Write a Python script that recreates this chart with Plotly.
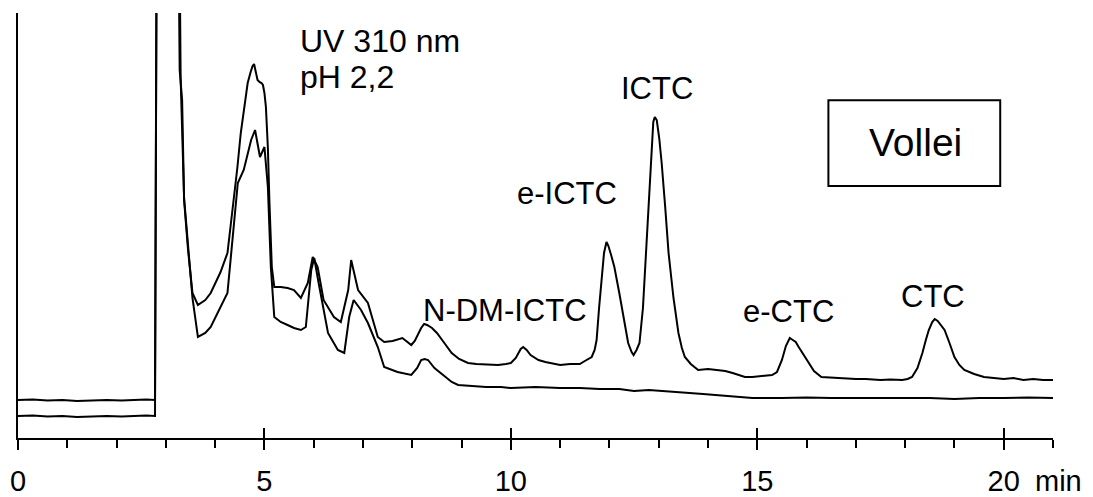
import plotly.graph_objects as go

# retention time (min) and detector signal (arbitrary units) -- upper trace
time_a = [0.0, 0.3, 0.6, 0.9, 1.2, 1.5, 1.8, 2.1, 2.4, 2.6, 2.78, 2.82, 3.24, 3.28, 3.33, 3.37, 3.45, 3.54,
          3.65, 3.8, 3.91, 4.11, 4.25, 4.38, 4.45, 4.52, 4.59, 4.66, 4.72, 4.76, 4.79, 4.82, 4.86, 4.90, 4.94,
          4.97, 5.00, 5.03, 5.07, 5.10, 5.15, 5.20,
          5.33, 5.47, 5.60, 5.74, 5.88, 5.98, 6.08, 6.20, 6.41, 6.55, 6.70, 6.76, 6.90, 7.10, 7.30, 7.43,
          7.60, 7.80, 7.98, 8.05, 8.10, 8.18, 8.24, 8.30, 8.40, 8.50, 8.65, 8.80, 8.95, 9.13,
          9.30, 9.50, 9.74, 9.90, 10.0, 10.1, 10.2, 10.25, 10.32, 10.4, 10.56, 10.7, 10.8, 11.0, 11.2, 11.4, 11.5,
          11.64, 11.70, 11.74, 11.79, 11.84, 11.89, 11.94, 11.98, 12.04, 12.1, 12.2, 12.29, 12.38, 12.45, 12.49,
          12.55, 12.61, 12.68, 12.75, 12.80, 12.85, 12.89, 12.92, 12.96, 13.01, 13.06, 13.13, 13.2, 13.3, 13.4,
          13.47, 13.53, 13.65, 13.8, 14.0, 14.2, 14.35, 14.5, 14.65, 14.75, 14.9, 15.1, 15.3, 15.4, 15.5, 15.58,
          15.66, 15.72, 15.78, 15.84, 15.94, 16.04, 16.15, 16.3, 16.58, 16.8, 17.0, 17.2, 17.5, 17.7,
          17.94, 18.05, 18.14, 18.25, 18.35, 18.42, 18.48, 18.55, 18.6, 18.66, 18.72, 18.8, 18.9, 19.0, 19.1,
          19.2, 19.4, 19.6, 19.8, 20.0, 20.2, 20.4, 20.6, 20.8, 21.0]
signal_a = [38, 38.5, 37.5, 38, 37, 37.5, 38, 37.5, 38, 38.5, 38, 600, 600, 368, 338, 238, 188, 145,
            133, 138, 145, 166, 185, 238, 270, 305, 330, 355, 366, 372, 374, 368, 358, 356, 355,
            353, 345, 331, 290, 238, 171, 151,
            151, 150, 148, 140, 155, 181, 171, 138, 121, 116, 148, 178, 148, 135, 101, 96,
            97, 100, 93, 97, 102, 110, 114, 113, 110, 105, 95, 85, 79, 75,
            74, 73.5, 73, 74, 75, 80, 89, 91, 88, 83, 78, 76, 75, 73, 74, 74, 77,
            81, 88, 98, 130, 158, 185, 196, 192, 182, 171, 145, 118, 95, 86, 83,
            88, 95, 130, 191, 245, 291, 316, 321, 318, 300, 275, 232, 185, 140, 105,
            90, 81, 74, 68, 69, 68, 67, 65, 63, 61, 61, 62, 63, 66, 78, 92,
            100, 98, 96, 91, 83, 75, 67, 61, 60, 59.5, 59, 59, 58, 58.5,
            58, 59, 61, 70, 85, 98, 108, 116, 119, 117, 113, 108, 95, 81, 73,
            68, 64, 61, 60, 59, 60, 58, 59, 58, 58]

# lower trace
time_b = [0.0, 0.3, 0.6, 0.9, 1.2, 1.5, 1.8, 2.1, 2.4, 2.6, 2.78, 2.82, 3.26, 3.30, 3.37, 3.45, 3.54,
          3.65, 3.8, 3.91, 4.11, 4.25, 4.46, 4.58, 4.73, 4.81, 4.91, 5.0, 5.07, 5.13, 5.2, 5.33, 5.47,
          5.6, 5.74, 5.84, 5.95, 6.01, 6.1, 6.29, 6.49, 6.62, 6.72, 6.81, 6.96, 7.1, 7.3, 7.43, 7.7,
          7.98, 8.1, 8.18, 8.25, 8.32, 8.45, 8.6, 8.7, 8.8, 8.93, 9.2, 9.5, 9.8, 10.0, 10.5, 11.0, 11.4,
          11.8, 12.2, 12.5, 12.8, 13.1, 13.5, 13.9, 14.4, 14.9, 15.5, 16.0, 16.5, 17.0, 17.5, 18.0, 18.5,
          19.0, 19.5, 20.0, 20.5, 21.0]
signal_b = [22, 22.5, 21.5, 22, 21, 21.5, 22, 21.5, 22, 22.5, 22, 600, 600, 360, 240, 190, 140,
            101, 105, 111, 131, 145, 255, 268, 298, 308, 281, 291, 251, 171, 121, 116, 113,
            110, 108, 111, 168, 180, 155, 105, 88, 85, 121, 138, 128, 115, 91, 71, 66,
            63, 70, 78, 79, 78, 70, 64, 60, 56, 53, 52, 51, 51, 50, 51, 50, 50,
            49, 49, 47, 48, 47, 46, 44, 42, 40, 40, 40.5, 40, 40, 39.5, 40, 40,
            39, 40, 40, 40.5, 40]

# peak labels
label_text = ["ICTC", "e-ICTC", "N-DM-ICTC", "e-CTC", "CTC"]
label_time = [12.97, 11.13, 9.89, 15.63, 18.57]
label_signal = [350, 245, 128, 127, 142]

x_tick_vals = [0, 5, 10, 15, 20]
x_tick_text = ["0", "5", "10", "15", "20"]

FONT = "Arial, Liberation Sans, sans-serif"

fig = go.Figure()
line = dict(color="black", width=2)
fig.add_trace(go.Scatter(x=time_a, y=signal_a, mode="lines", line=line, showlegend=False, hoverinfo="skip"))
fig.add_trace(go.Scatter(x=time_b, y=signal_b, mode="lines", line=line, showlegend=False, hoverinfo="skip"))
fig.add_trace(go.Scatter(x=[], y=[], xaxis="x2", showlegend=False))

for t, x, y in zip(label_text, label_time, label_signal):
    fig.add_annotation(x=x, y=y, text=t, showarrow=False, xanchor="center", yanchor="middle",
                       font=dict(family=FONT, size=31, color="black"))

fig.add_annotation(x=5.69, y=397, text="UV 310 nm", showarrow=False, xanchor="left", yanchor="middle",
                   font=dict(family=FONT, size=32, color="black"))
fig.add_annotation(x=5.69, y=361, text="pH 2,2", showarrow=False, xanchor="left", yanchor="middle",
                   font=dict(family=FONT, size=32, color="black"))
fig.add_annotation(x=18.2, y=296, text="Vollei", showarrow=False, xanchor="center", yanchor="middle",
                   font=dict(family=FONT, size=39, color="black"))
fig.add_shape(type="rect", xref="paper", yref="paper", x0=0.783, x1=0.949, y0=0.593, y1=0.795,
              line=dict(color="black", width=2))
fig.add_annotation(xref="paper", yref="paper", x=0.981, y=-0.1, text="min", showarrow=False,
                   xanchor="left", yanchor="middle", font=dict(family=FONT, size=29, color="black"))

fig.update_layout(
    width=1093, height=497,
    margin=dict(l=10, r=48, t=5, b=67, autoexpand=False),
    paper_bgcolor="white", plot_bgcolor="white",
    font=dict(family=FONT, color="black"),
    xaxis=dict(range=[0, 21], tickvals=x_tick_vals, ticktext=x_tick_text, ticks="outside", ticklen=10,
               tickwidth=2, tickcolor="black", showline=True, linewidth=2, linecolor="black",
               showgrid=False, zeroline=False, automargin=False, ticklabelstandoff=6,
               tickfont=dict(family=FONT, size=29, color="black"),
               minor=dict(dtick=1, ticks="outside", ticklen=8, tickwidth=2, tickcolor="black", showgrid=False)),
    xaxis2=dict(range=[0, 21], overlaying="x", anchor="y", side="bottom", tickvals=[5, 10, 15, 20],
                ticks="inside", ticklen=10, tickwidth=2, tickcolor="black", showticklabels=False,
                showline=False, showgrid=False, zeroline=False, automargin=False),
    yaxis=dict(range=[0, 425], showline=True, linewidth=2, linecolor="black", showticklabels=False,
               ticks="", showgrid=False, zeroline=False, automargin=False),
)

fig.write_html("out.html")
